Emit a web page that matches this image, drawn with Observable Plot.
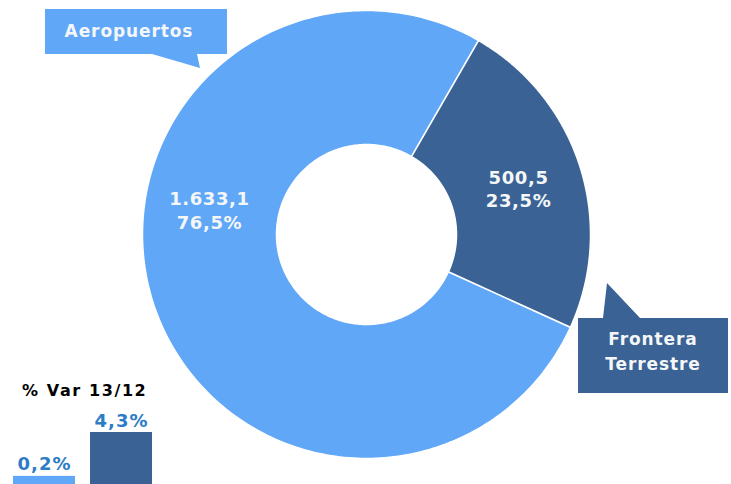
<!DOCTYPE html>
<html><head><meta charset="utf-8">
<script src="https://cdn.jsdelivr.net/npm/d3@7"></script>
<script src="https://cdn.jsdelivr.net/npm/@observablehq/plot@0.6"></script>
<style>
body{margin:0;background:#fff;}
#wrap{position:relative;width:731px;height:484px;overflow:hidden;font-family:"DejaVu Sans",Verdana,sans-serif;font-weight:bold;}
#wrap > div, #wrap > svg{position:absolute;}
#vtitle{left:22px;top:383px;font-size:16px;line-height:16px;letter-spacing:1.6px;color:#000;white-space:nowrap;}
.lbl text{letter-spacing:0.6px;}
.callout{letter-spacing:0.9px;}
.barlbl text{letter-spacing:1px;}
</style>
</head><body>
<div id="wrap"></div>
<script>
// ---- data ----
const categories = ["Aeropuertos", "Frontera Terrestre"];
const values = [1633.1, 500.5];
const variation = [0.2, 4.3];
const varTitle = "% Var 13/12";
const calloutLines = [["Aeropuertos"], ["Frontera", "Terrestre"]];

// ---- style / layout ----
const colors = ["#60a8f7", "#3a6294"];
const font = "DejaVu Sans";
const cx = 366, cy = 234, R = 224, innerFrac = 90 / 224;
const fronteraStartDeg = 30;
const labelAngleDeg = [279, 73];
const labelRadius = 0.71;

const locale = d3.formatLocale({decimal: ",", thousands: ".", grouping: [3], currency: ["", ""]});
const fmtVal = locale.format(",.1f");
const fmtPct = locale.format(".1f");

const total = d3.sum(values);
const startAngle = fronteraStartDeg * Math.PI / 180 + 2 * Math.PI * values[1] / total;
const arcs = d3.pie().sort(null).startAngle(startAngle).endAngle(startAngle + 2 * Math.PI)(values);

// polygon points of each ring slice
const ringPts = [];
arcs.forEach((a, i) => {
  const N = 240;
  for (let k = 0; k <= N; k++) {
    const t = a.startAngle + (a.endAngle - a.startAngle) * k / N;
    ringPts.push({cat: categories[i], x: Math.sin(t), y: Math.cos(t)});
  }
  for (let k = N; k >= 0; k--) {
    const t = a.startAngle + (a.endAngle - a.startAngle) * k / N;
    ringPts.push({cat: categories[i], x: innerFrac * Math.sin(t), y: innerFrac * Math.cos(t)});
  }
});

const labels = categories.map((c, i) => {
  const t = labelAngleDeg[i] * Math.PI / 180;
  return {cat: c, x: labelRadius * Math.sin(t), y: labelRadius * Math.cos(t),
          text: fmtVal(values[i]) + "\n" + fmtPct(100 * values[i] / total) + "%"};
});

const donut = Plot.plot({
  width: 731, height: 484, margin: 0,
  style: {background: "transparent", fontFamily: font},
  x: {domain: [-1, 1], range: [cx - R, cx + R], axis: null},
  y: {domain: [-1, 1], range: [cy + R, cy - R], axis: null},
  color: {domain: categories, range: colors},
  marks: [
    Plot.line(ringPts, {x: "x", y: "y", z: "cat", fill: "cat", stroke: "white", strokeWidth: 1.5, curve: "linear-closed"}),
    Plot.text(labels, {x: "x", y: "y", text: "text", fill: "#f4f6f8", fontSize: 18, fontWeight: "bold", lineHeight: 1.28, lineAnchor: "middle", className: "lbl"})
  ]
});
donut.style.left = "0px"; donut.style.top = "0px";
document.getElementById("wrap").appendChild(donut);

// callout boxes (annotations)
const svg = d3.select(donut);
const callouts = [
  {path: "M45,9H227V54H197L200,68L152,54H45Z", tx: 129, ty: [37]},
  {path: "M578,318H603L607,283L640,318H728V393H578Z", tx: 653, ty: [345, 370]}
];
callouts.forEach((c, i) => {
  svg.append("path").attr("d", c.path).attr("fill", colors[i]);
  calloutLines[i].forEach((ln, j) => {
    svg.append("text").attr("class", "callout").attr("x", c.tx).attr("y", c.ty[j]).attr("text-anchor", "middle")
      .attr("fill", "#f4f6f8").attr("font-family", font).attr("font-weight", "bold")
      .attr("font-size", 17).text(ln);
  });
});

// small variation bar chart
const barData = categories.map((c, i) => ({cat: c, v: variation[i]}));
const bars = Plot.plot({
  width: 170, height: 84, margin: 0,
  style: {background: "transparent", fontFamily: font, overflow: "visible"},
  x: {domain: categories, range: [12, 152], paddingInner: 0.2, paddingOuter: 0, axis: null},
  y: {domain: [0, 4.3], range: [78, 32], axis: null},
  color: {domain: categories, range: colors},
  marks: [
    Plot.barY(barData, {x: "cat", y1: -0.6, y2: "v", fill: "cat"}),
    Plot.text(barData, {x: "cat", y: "v", text: d => fmtPct(d.v) + "%", dy: -6, lineAnchor: "bottom",
      fill: "#2e7cc6", fontSize: 18, fontWeight: "bold", className: "barlbl"})
  ]
});
bars.style.left = "0px"; bars.style.top = "400px";
document.getElementById("wrap").appendChild(bars);

const t = document.createElement("div");
t.id = "vtitle"; t.textContent = varTitle;
document.getElementById("wrap").appendChild(t);
</script>
</body></html>
